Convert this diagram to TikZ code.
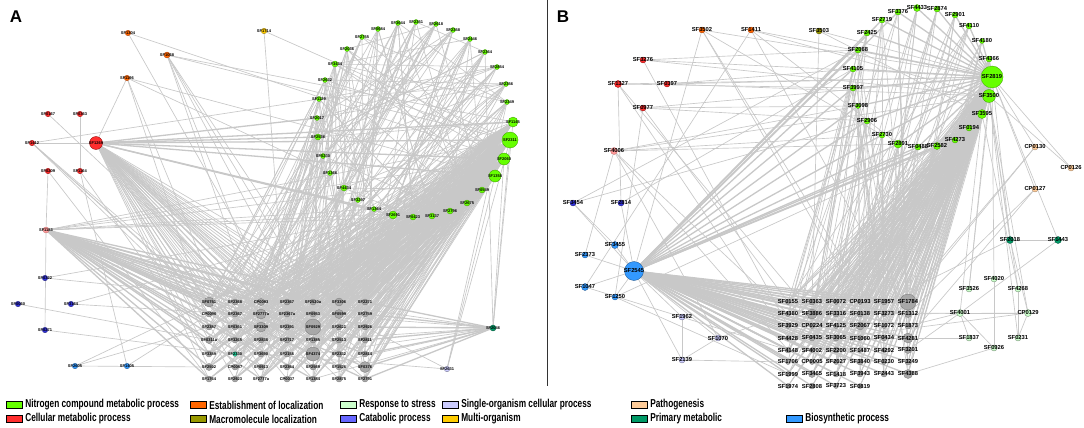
\documentclass[tikz,border=0pt]{standalone}
\usepackage{fontspec}
\setmainfont{Liberation Sans}
\newfontfamily\legendfont[FakeStretch=0.72]{Liberation Sans}
\usepackage{tikz}
\usetikzlibrary{positioning, backgrounds}
\definecolor{edgeGray}{HTML}{C8C8C8}
\definecolor{nitroGreen}{HTML}{66FF00}
\definecolor{nitroEdge}{HTML}{3C9900}
\definecolor{cellRed}{HTML}{FF2E2E}
\definecolor{cellEdge}{HTML}{8C0000}
\definecolor{cellPink}{HTML}{FF9A9A}
\definecolor{estOrange}{HTML}{FF6600}
\definecolor{estEdge}{HTML}{993300}
\definecolor{macroOlive}{HTML}{999900}
\definecolor{stressGreen}{HTML}{CCFFCC}
\definecolor{cataBlue}{HTML}{6666FF}
\definecolor{cataDeep}{HTML}{3333DD}
\definecolor{singleLav}{HTML}{CCCCFF}
\definecolor{multiYellow}{HTML}{FFCC00}
\definecolor{pathoPeach}{HTML}{FFCC99}
\definecolor{primGreen}{HTML}{009966}
\definecolor{bioBlue}{HTML}{3399FF}
\definecolor{gridGray}{HTML}{A8A8A8}
\definecolor{gridEdge}{HTML}{7A7A7A}
\definecolor{tealNode}{HTML}{22CC99}
\tikzstyle{gene} = [circle, inner sep=0pt, line width=0.3pt, minimum size=5.5pt]
\tikzstyle{nitroNode} = [gene, fill=nitroGreen, draw=nitroEdge]
\tikzstyle{cellNode} = [gene, fill=cellRed, draw=cellEdge]
\tikzstyle{pinkNode} = [gene, fill=cellPink, draw=cellEdge!60]
\tikzstyle{estNode} = [gene, fill=estOrange, draw=estEdge]
\tikzstyle{macroNode} = [gene, fill=macroOlive, draw=macroOlive!50!black]
\tikzstyle{multiNode} = [gene, fill=multiYellow, draw=multiYellow!50!black]
\tikzstyle{cataNode} = [gene, fill=cataDeep, draw=cataDeep!50!black]
\tikzstyle{bioNode} = [gene, fill=bioBlue, draw=bioBlue!50!black]
\tikzstyle{singleNode} = [gene, fill=singleLav, draw=singleLav!50!black]
\tikzstyle{stressNode} = [gene, fill=stressGreen, draw=stressGreen!50!black]
\tikzstyle{pathoNode} = [gene, fill=pathoPeach, draw=pathoPeach!60!black]
\tikzstyle{primNode} = [gene, fill=primGreen, draw=primGreen!50!black]
\tikzstyle{gridNode} = [gene, fill=gridGray, draw=gridEdge]
\tikzstyle{labA} = [font=\fontsize{4}{4}\selectfont\bfseries, inner sep=0pt]
\tikzstyle{labB} = [font=\fontsize{5.8}{5.8}\selectfont\bfseries, inner sep=0pt]
\tikzstyle{link} = [edgeGray, line width=0.65pt]
\tikzstyle{thickLink} = [edgeGray, line width=1.3pt]
\tikzstyle{legendBox} = [draw=black, line width=0.6pt, minimum width=16pt, minimum height=6.5pt, inner sep=0pt, anchor=west]
\tikzstyle{legendText} = [font=\legendfont\fontsize{11.5}{12}\selectfont\bfseries, inner sep=0pt]

\begin{document}
\begin{tikzpicture}[x=1pt, y=-1pt]
\useasboundingbox (0,0) rectangle (1084,428);
\begin{pgfonlayer}{background}
\fill[white] (0,0) rectangle (1084,428);
\end{pgfonlayer}

% panel titles and separator
\node[font=\fontsize{17}{17}\selectfont\bfseries] (titleA) at (16,17) {A};
\node[font=\fontsize{17}{17}\selectfont\bfseries] (titleB) at (563,17) {B};
\draw[line width=0.8pt, black!80] (547,0) -- (547,386);

%%%%%%%%%% panel A %%%%%%%%%%
\foreach \lab/\xx/\yy/\sz [count=\i] in {SF0684/378/29/5, SF3644/398/23/5, SF2351/416/22/5, SF2618/436/24/5, SF2358/453/30/5, SF2446/470/39/5, SF2364/485/52/5, SF2854/497/67/5, SF2356/506/84/5, SF2349/507/102/5, SF1145/513/122/10, SF2311/510/140/16, SF2060/504/159/12, SF1358/495/176/12, SF0549/482/190/6, SF2675/467/203/6, SF2796/450/211/6, SF3137/432/216/6, SF0423/413/217/6, SF2691/393/215/8, SF1364/374/209/5, SF3297/358/200/5, SF4434/344/188/6, SF1366/330/173/5, SF0230/323/156/5, SF2536/318/137/6, SF2017/317/118/5, SF1129/319/99/5, SF2632/325/80/5, SF3434/335/64/6, SF2036/347/49/5, SF2755/362/37/5}
  \node[nitroNode, minimum size=\sz pt, label={[labA]center:\lab}] (aa\i) at (\xx,\yy) {};
\node[estNode, label={[labA]center:SF1304}] (ao1) at (128,33) {};
\node[estNode, minimum size=6pt, label={[labA]center:SF1068}] (ao2) at (167,55) {};
\node[estNode, label={[labA]center:SF1196}] (ao3) at (127,78) {};
\node[multiNode, label={[labA]center:SF1714}] (ay1) at (264,31) {};
\node[cellNode, label={[labA]center:SF0167}] (ar1) at (48,114) {};
\node[cellNode, label={[labA]center:SF0363}] (ar2) at (80,114) {};
\node[cellNode, label={[labA]center:SF1412}] (ar3) at (32,143) {};
\node[cellNode, minimum size=13pt, label={[labA]center:SF1269}] (ar4) at (96,143) {};
\node[cellNode, label={[labA]center:SF0209}] (ar5) at (48,171) {};
\node[cellNode, label={[labA]center:SF1164}] (ar6) at (80,171) {};
\node[pinkNode, minimum size=6pt, label={[labA]center:SF1183}] (ap1) at (46,230) {};
\node[cataNode, label={[labA]center:SF0322}] (ab1) at (45,278) {};
\node[cataNode, label={[labA]center:SF0060}] (ab2) at (18,304) {};
\node[cataNode, label={[labA]center:SF3164}] (ab3) at (71,304) {};
\node[cataNode, label={[labA]center:SF0271}] (ab4) at (45,330) {};
\node[bioNode, label={[labA]center:SF2605}] (al1) at (75,366) {};
\node[bioNode, label={[labA]center:SF1405}] (al2) at (127,366) {};
\node[primNode, minimum size=6pt, label={[labA]center:SF2046}] (ad1) at (493,328) {};
\node[singleNode, label={[labA]center:SF2631}] (av1) at (447,369) {};
% grid of panel A
\foreach \lab/\sz [count=\c] in {SF0751/10, SF2368/6, CP0093/7, SF2367/6, SF2520a/6, SF3306/8, SF2271/6}
  \node[gridNode, minimum size=\sz pt, label={[labA]center:\lab}] (ga1\c) at ({183+26*\c},302) {};
\foreach \lab/\sz [count=\c] in {CP0096/6, SF2367/6, SF2777a/10, SF2367a/6, SF0953/6, SF0599/9, SF2759/6}
  \node[gridNode, minimum size=\sz pt, label={[labA]center:\lab}] (ga2\c) at ({183+26*\c},314) {};
\foreach \lab/\sz [count=\c] in {SF2387/6, SF0361/6, SF3309/10, SF2391/6, SF0929/16, SF2621/6, SF2926/6}
  \node[gridNode, minimum size=\sz pt, label={[labA]center:\lab}] (ga3\c) at ({183+26*\c},327) {};
\foreach \lab/\sz [count=\c] in {SF0311a/7, SF3265/6, SF2838/6, SF2717/6, SF1385/6, SF2513/6, SF2811/6}
  \node[gridNode, minimum size=\sz pt, label={[labA]center:\lab}] (ga4\c) at ({183+26*\c},340) {};
\foreach \lab/\sz/\col [count=\c] in {SF3389/6/gridGray, SF2330/5/tealNode, SF3690/6/gridGray, SF2156/6/gridGray, SF4374/14/gridGray, SF2332/6/gridGray, SF2814/6/gridGray}
  \node[gridNode, fill=\col, minimum size=\sz pt, label={[labA]center:\lab}] (ga5\c) at ({183+26*\c},354) {};
\foreach \lab/\sz [count=\c] in {SF2502/7, CP0057/6, SF0913/6, SF2364/6, SF2569/6, SF1526/6, SF0376/11}
  \node[gridNode, minimum size=\sz pt, label={[labA]center:\lab}] (ga6\c) at ({183+26*\c},367) {};
\foreach \lab/\sz [count=\c] in {SF1764/6, SF2923/6, SF2777a/6, CP0037/6, SF1384/6, SF2875/6, SF2791/6}
  \node[gridNode, minimum size=\sz pt, label={[labA]center:\lab}] (ga7\c) at ({183+26*\c},379) {};

%%%%%%%%%% panel B %%%%%%%%%%
\foreach \lab/\xx/\yy/\sz [count=\i] in {SF2719/882/20/6, SF3376/898/12/6, SF4433/917/8/7, SF2874/937/9/6, SF2901/955/15/6, SF4110/969/26/6, SF4180/982/41/5, SF4366/989/59/6, SF2819/992/77/22, SF3500/989/96/13, SF3595/982/114/9, SF0194/969/128/6, SF4273/955/140/6, SF2582/937/146/7, SF0488/918/147/6, SF2891/898/144/8, SF2730/882/135/6, SF2906/867/121/6, SF3098/858/106/5, SF3997/853/88/6, SF4105/853/69/6, SF2068/858/50/6, SF2425/867/33/6}
  \node[nitroNode, minimum size=\sz pt, label={[labB]center:\lab}] (bg\i) at (\xx,\yy) {};
\node[estNode, minimum size=6pt, label={[labB]center:SF3502}] (bo1) at (702,30) {};
\node[estNode, minimum size=6pt, label={[labB]center:SF1411}] (bo2) at (751,30) {};
\node[macroNode, minimum size=6pt, label={[labB]center:SF3503}] (bm1) at (819,31) {};
\node[cellNode, minimum size=6pt, label={[labB]center:SF3276}] (br1) at (643,60) {};
\node[cellNode, minimum size=7pt, label={[labB]center:SF1327}] (br2) at (618,84) {};
\node[cellNode, minimum size=6pt, label={[labB]center:SF0397}] (br3) at (667,84) {};
\node[cellNode, minimum size=6pt, label={[labB]center:SF0977}] (br4) at (643,108) {};
\node[pinkNode, minimum size=7pt, label={[labB]center:SF4006}] (bp1) at (614,151) {};
\node[cataNode, minimum size=6pt, label={[labB]center:SF3454}] (bc1) at (573,203) {};
\node[cataNode, minimum size=6pt, label={[labB]center:SF2814}] (bc2) at (621,203) {};
\node[bioNode, minimum size=7pt, label={[labB]center:SF3455}] (bb1) at (615,245) {};
\node[bioNode, minimum size=6pt, label={[labB]center:SF2373}] (bb2) at (585,255) {};
\node[bioNode, minimum size=19pt, label={[labB]center:SF2545}] (bb3) at (634,271) {};
\node[bioNode, minimum size=7pt, label={[labB]center:SF1047}] (bb4) at (585,287) {};
\node[bioNode, minimum size=6pt, label={[labB]center:SF1250}] (bb5) at (615,297) {};
\node[singleNode, minimum size=6pt, label={[labB]center:SF1962}] (bv1) at (682,317) {};
\node[singleNode, minimum size=6pt, label={[labB]center:SF1070}] (bv2) at (718,338) {};
\node[singleNode, minimum size=6pt, label={[labB]center:SF2139}] (bv3) at (682,360) {};
\node[pathoNode, minimum size=6pt, label={[labB]center:CP0130}] (bk1) at (1035,147) {};
\node[pathoNode, minimum size=6pt, label={[labB]center:CP0126}] (bk2) at (1071,168) {};
\node[pathoNode, minimum size=6pt, label={[labB]center:CP0127}] (bk3) at (1035,189) {};
\node[stressNode, minimum size=7pt, label={[labB]center:CP0129}] (bk4) at (1028,313) {};
\node[primNode, minimum size=7pt, label={[labB]center:SF2018}] (bd1) at (1010,240) {};
\node[primNode, minimum size=7pt, label={[labB]center:SF1443}] (bd2) at (1058,240) {};
\node[stressNode, minimum size=6pt, label={[labB]center:SF4020}] (bs1) at (994,279) {};
\node[stressNode, minimum size=6pt, label={[labB]center:SF3526}] (bs2) at (969,289) {};
\node[stressNode, minimum size=6pt, label={[labB]center:SF4268}] (bs3) at (1018,289) {};
\node[stressNode, minimum size=7pt, label={[labB]center:SF4001}] (bs4) at (960,313) {};
\node[stressNode, minimum size=6pt, label={[labB]center:SF1837}] (bs5) at (969,338) {};
\node[stressNode, minimum size=6pt, label={[labB]center:SF0231}] (bs6) at (1018,338) {};
\node[stressNode, minimum size=6pt, label={[labB]center:SF0926}] (bs7) at (994,348) {};
% grid of panel B
\foreach \lab/\sz [count=\c] in {SF0155/5, SF0363/6, SF0072/5, CP0193/5, SF1957/6, SF1784/16}
  \node[gridNode, minimum size=\sz pt, label={[labB]center:\lab}] (gb1\c) at ({764+24*\c},302) {};
\foreach \lab/\sz [count=\c] in {SF4380/5, SF3886/10, SF3316/6, SF0138/6, SF3273/5, SF1312/7}
  \node[gridNode, minimum size=\sz pt, label={[labB]center:\lab}] (gb2\c) at ({764+24*\c},314) {};
\foreach \lab/\sz [count=\c] in {SF3929/5, CP0224/5, SF4125/5, SF2067/8, SF1072/5, SF1873/6}
  \node[gridNode, minimum size=\sz pt, label={[labB]center:\lab}] (gb3\c) at ({764+24*\c},326) {};
\foreach \lab/\sz [count=\c] in {SF4428/5, SF0435/6, SF3065/6, SF1060/5, SF0434/6, SF4281/10}
  \node[gridNode, minimum size=\sz pt, label={[labB]center:\lab}] (gb4\c) at ({764+24*\c},338) {};
\foreach \lab/\sz [count=\c] in {SF4148/6, SF4002/5, SF2200/6, SF1487/5, SF4292/5, SF3201/7}
  \node[gridNode, minimum size=\sz pt, label={[labB]center:\lab}] (gb5\c) at ({764+24*\c},350) {};
\foreach \lab/\sz [count=\c] in {SF1706/5, CP0005/5, SF2027/5, SF3840/6, SF0230/5, SF3249/6}
  \node[gridNode, minimum size=\sz pt, label={[labB]center:\lab}] (gb6\c) at ({764+24*\c},362) {};
\foreach \lab/\sz [count=\c] in {SF1999/5, SF3465/7, SF1418/6, SF3943/6, SF2443/6, SF4388/9}
  \node[gridNode, minimum size=\sz pt, label={[labB]center:\lab}] (gb7\c) at ({764+24*\c},374) {};
\foreach \lab/\sz [count=\c] in {SF1974/5, SF2808/6, SF3723/5, SF0819/5}
  \node[gridNode, minimum size=\sz pt, label={[labB]center:\lab}] (gb8\c) at ({764+24*\c},386) {};

%%%%%%%%%% legend %%%%%%%%%%
\foreach \lab/\col/\xx/\yy [count=\i] in {Nitrogen compound metabolic process/nitroGreen/6/405, Establishment of localization/estOrange/190/405, Response to stress/stressGreen/340/405, Single-organism cellular process/singleLav/442/405, Pathogenesis/pathoPeach/631/405, Cellular metabolic process/cellRed/6/419, Macromolecule localization/macroOlive/190/419, Catabolic process/cataBlue/340/419, Multi-organism/multiYellow/442/419, Primary metabolic/primGreen/631/419, Biosynthetic process/bioBlue/786/419}
{
  \node[legendBox, fill=\col] (key\i) at (\xx,\yy) {};
  \node[legendText, right=2.5pt of key\i] (keyText\i) {\lab};
}

%%%%%%%%%% edges %%%%%%%%%%
\begin{pgfonlayer}{background}
\pgfmathsetseed{4207}
% panel A hubs
\foreach \h in {11,12,13,14}
  \foreach \r in {1,...,7}
    \foreach \c in {1,...,7}
      \draw[link] (aa\h) -- (ga\r\c);
\foreach \r in {1,...,7}
  \foreach \c in {1,...,7}
    \draw[link] (ar4) -- (ga\r\c);
\foreach \r in {1,...,7}
  \foreach \c in {1,3,5,7}
    \draw[thickLink] (ap1) -- (ga\r\c);
\foreach \r in {1,...,7} {
  \draw[thickLink] (ad1) -- (ga\r7);
  \draw[link] (ad1) -- (ga\r5);
}
\foreach \t in {11,12,13,14,20,21,26,27}
  \draw[thickLink] (ar4) -- (aa\t);
\foreach \t in {12,13,14,16,17,19}
  \draw[link] (ap1) -- (aa\t);
\foreach \s/\t in {ar3/ar4, ar3/aa28, ar3/ga11, ar3/ga21, ar3/ga32, ar3/ga43, ar1/ga23, ar2/ar6, ar5/ga71, ar6/ga51, ar5/ap1,
  ao1/aa13, ao1/ga24, ao2/aa12, ao2/aa11, ao2/ga26, ao2/ga35, ao2/ga46, ao2/ga54, ao2/ga33,
  ao3/ar4, ao3/ga31, ao3/ga42, ao3/aa14, ao3/aa24, ay1/ga44, ay1/aa12,
  ab1/ga14, ab1/aa16, ab2/ga41, ab3/aa20, ab3/ga22, ab4/ga52, ab4/ap1, al1/ga31, al1/ga11, al1/ga61,
  al2/ga21, al2/ar6, ad1/aa12, ad1/aa13, ad1/aa11, ad1/aa7, av1/aa12, av1/aa14, av1/ga53, av1/ga37, av1/aa10}
  \draw[link] (\s) -- (\t);
\foreach \i in {1,...,32} {
  \foreach \k in {1,...,6} {
    \pgfmathtruncatemacro{\rr}{random(1,7)}
    \pgfmathtruncatemacro{\cc}{random(1,7)}
    \draw[link] (aa\i) -- (ga\rr\cc);
  }
  \foreach \k in {1,2} {
    \pgfmathtruncatemacro{\jj}{mod(\i+random(3,20),32)+1}
    \draw[link] (aa\i) -- (aa\jj);
  }
}
% panel B hubs
\foreach \h in {9,10,11} {
  \foreach \r in {1,...,7}
    \foreach \c in {1,...,6}
      \draw[link] (bg\h) -- (gb\r\c);
  \foreach \c in {1,...,4}
    \draw[link] (bg\h) -- (gb8\c);
}
\foreach \r in {1,...,7}
  \foreach \c in {1,...,6}
    \draw[thickLink] (bb3) -- (gb\r\c);
\foreach \c in {1,...,4}
  \draw[thickLink] (bb3) -- (gb8\c);
\foreach \i in {1,2,3,4,5,6,7,8,10,11,12,13,14,15,16,17,18,19,20,21,22,23}
  \draw[thickLink] (bg\i) -- (bg9);
\foreach \i in {1,2,12,13,14,15,16,17,18,19,20,21,22,23}
  \draw[thickLink] (bg\i) -- (bb3);
\foreach \s/\t in {br1/bg9, br1/bg10, br1/gb31, br2/bg9, br2/bg20, br3/bg9, br3/bg10, br4/bg19, br4/bg9, br2/bc2, br2/gb22, br2/gb41,
  br4/gb11, br4/bb5, bp1/bg16, bp1/bg17, bp1/gb21, bp1/gb51, bp1/bb2, bp1/bv2, bo1/bg9, bo1/gb14, bo1/bb3, bo1/gb35,
  bo2/bg9, bo2/bb4, bo2/gb26, bo2/bg10, bm1/bg9, bm1/gb12, bm1/bg11, bc1/bb3, bc1/bb1, bc1/bg18, bc1/bg22, bc2/bb3, bc2/bg21,
  bb1/bb3, bb2/bb3, bb4/bb3, bb5/bb3, bb4/gb51, bb5/gb71, bb5/bg13, bv1/bb3, bv2/bb3, bv2/gb21, bv3/bv1, bv3/bb3, bv3/gb61,
  bv3/bv2, bk1/bg9, bk1/gb16, bk1/gb35, bk2/bg9, bk2/bg10, bk3/bg9, bk3/gb46, bk3/gb26, bk4/bg10, bk4/bs4, bk4/gb25,
  bk4/gb43, bk4/bd1, bd1/bg9, bd1/bg10, bd1/bd2, bd1/gb33, bd2/bg9, bd2/bs4, bs1/bg9, bs1/bs7, bs2/bg9, bs2/bg10, bs3/bg10,
  bs3/bg11, bs4/bg11, bs4/gb23, bs4/gb36, bs4/gb56, bs5/bs4, bs5/gb42, bs6/bg10, bs6/bk4, bs7/gb76, bs7/bs4, bs6/bs3,
  br1/bg22, br3/bg21, br4/bg18, bp1/bg19, bo1/bg17, bo2/bg16, bp1/bg10}
  \draw[link] (\s) -- (\t);
\foreach \i in {1,...,23} {
  \foreach \k in {1,...,5} {
    \pgfmathtruncatemacro{\rr}{random(1,7)}
    \pgfmathtruncatemacro{\cc}{random(1,6)}
    \draw[link] (bg\i) -- (gb\rr\cc);
  }
}
\end{pgfonlayer}
\end{tikzpicture}
\end{document}
